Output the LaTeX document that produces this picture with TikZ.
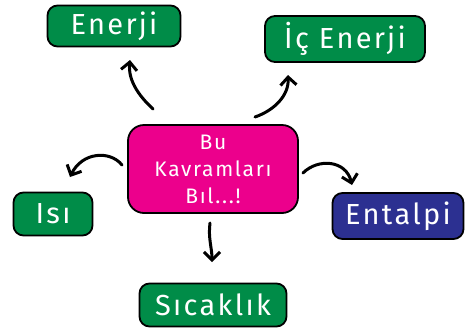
\documentclass[tikz,border=0pt]{standalone}
\usepackage{fontspec}
\setmainfont{Fira Sans}[LetterSpace=8]
\usetikzlibrary{arrows.meta}
\definecolor{kgreen}{RGB}{0,140,72}
\definecolor{kpink}{RGB}{236,0,140}
\definecolor{knavy}{RGB}{44,48,145}
\tikzset{
  kbox/.style={draw=black, line width=1.8pt, rounded corners=10pt, text=white, inner sep=0pt, align=center},
  klabel/.style={font=\fontsize{29}{32}\selectfont},
  karrow/.style={line width=3pt, line cap=round, -{Straight Barb[length=8pt,width=16pt,line width=3pt]}}
}
\begin{document}
\begin{tikzpicture}[x=1pt,y=-1pt]
\useasboundingbox (0,0) rectangle (468,333);
\node[kbox, fill=kgreen, klabel, minimum width=133pt, minimum height=41pt] (enerji) at (114,26) {Enerji};
\node[kbox, fill=kgreen, klabel, minimum width=160pt, minimum height=46pt] (icenerji) at (345,39) {İç Enerji};
\node[kbox, fill=kpink, rounded corners=16pt, minimum width=170pt, minimum height=88pt, font=\fontsize{21}{27}\selectfont] (merkez) at (213,169) {Bu\\Kavramları\\Bıl...!};
\node[kbox, fill=kgreen, klabel, minimum width=79pt, minimum height=43pt] (isi) at (53,214) {Isı};
\node[kbox, fill=knavy, klabel, minimum width=131pt, minimum height=46pt] (entalpi) at (398,216) {Entalpi};
\node[kbox, fill=kgreen, klabel, minimum width=147pt, minimum height=43pt] (sicaklik) at (213,305) {Sıcaklık};
\coordinate (t1) at (153,109); \coordinate (h1) at (130,60);
\coordinate (t2) at (255,117); \coordinate (h2) at (288,75);
\coordinate (t3) at (122,165); \coordinate (h3) at (70,177);
\coordinate (t4) at (303,173); \coordinate (h4) at (352,185);
\coordinate (t5) at (210,223); \coordinate (h5) at (212,262);
\draw[karrow] (t1) .. controls (138,95) and (128,80) .. (h1);
\draw[karrow] (t2) .. controls (275,110) and (289,95) .. (h2);
\draw[karrow] (t3) .. controls (110,150) and (82,152) .. (h3);
\draw[karrow] (t4) .. controls (318,158) and (346,160) .. (h4);
\draw[karrow] (t5) .. controls (208,238) and (212,248) .. (h5);
\end{tikzpicture}
\end{document}
